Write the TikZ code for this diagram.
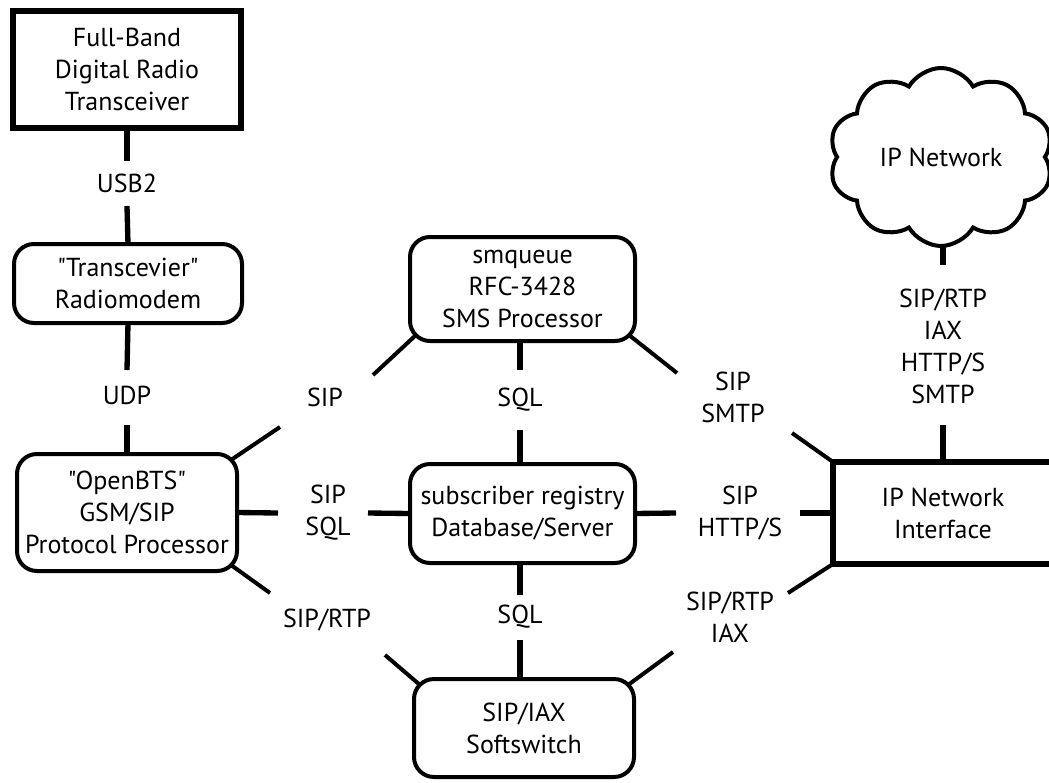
\documentclass[tikz,border=0pt]{standalone}
\usepackage{fontspec}
\newfontfamily\ptsans{PT Sans}
\usetikzlibrary{shapes.symbols,calc}
\begin{document}
\begin{tikzpicture}[x=0.75pt,y=-0.75pt,
  every node/.style={font=\ptsans\fontsize{19.5}{24}\selectfont, align=center, inner sep=0pt, outer sep=0pt},
  tbox/.style={draw, line width=4.5pt, rectangle},
  rbox/.style={draw, line width=3pt, rectangle, rounded corners=15pt},
  conn/.style={line width=4pt},
  diag/.style={line width=3pt},
  lbl/.style={}]
\useasboundingbox (0,0) rectangle (1049,782);

% boxes
\node[tbox, minimum width=228*0.75pt, minimum height=117*0.75pt] (fb) at (127,69.5) {Full-Band\\Digital Radio\\Transceiver};
\node[rbox, minimum width=228*0.75pt, minimum height=79*0.75pt] (rm) at (128,283.5) {"Transcevier"\\Radiomodem};
\node[rbox, minimum width=220*0.75pt, minimum height=117*0.75pt] (obts) at (127,512.5) {"OpenBTS"\\GSM/SIP\\Protocol Processor};
\node[rbox, minimum width=225*0.75pt, minimum height=104*0.75pt] (smq) at (522.5,289) {smqueue\\RFC-3428\\SMS Processor};
\node[rbox, minimum width=225*0.75pt, minimum height=99*0.75pt] (reg) at (522.5,513.5) {subscriber registry\\Database/Server};
\node[rbox, minimum width=220*0.75pt, minimum height=98*0.75pt] (sw) at (524,728) {SIP/IAX\\Softswitch};
\node[tbox, minimum width=220*0.75pt, minimum height=102*0.75pt] (ipni) at (943,513) {IP Network\\Interface};
\node[cloud, draw, line width=3pt, cloud puffs=10, cloud puff arc=120, cloud ignores aspect,
      minimum width=224*0.75pt, minimum height=178*0.75pt] (cloud) at (941,157) {IP Network};

% labels
\node[lbl] (l1) at (127,183) {USB2};
\node[lbl] (l2) at (127,395) {UDP};
\node[lbl] (l3) at (325,397) {SIP};
\node[lbl] (l4) at (328,513) {SIP\\SQL};
\node[lbl] (l5) at (327,620) {SIP/RTP};
\node[lbl] (l6) at (520,400) {SQL};
\node[lbl] (l7) at (520,617) {SQL};
\node[lbl] (l8) at (733,397) {SIP\\SMTP};
\node[lbl] (l9) at (740,513) {SIP\\HTTP/S};
\node[lbl] (l10) at (730,617) {SIP/RTP\\IAX};
\node[lbl] (l11) at (943,346) {SIP/RTP\\IAX\\HTTP/S\\SMTP};

% free ends
\coordinate (a1) at (127,161);
\coordinate (a2) at (127,206);
\coordinate (b1) at (127,370);
\coordinate (b2) at (127,425);
\coordinate (c1) at (280,427);
\coordinate (c2) at (373,375);
\coordinate (d1) at (278,513);
\coordinate (d2) at (368,513);
\coordinate (e1) at (270,593);
\coordinate (e2) at (385,655);
\coordinate (f1) at (520,370);
\coordinate (f2) at (520,430);
\coordinate (g1) at (520,595);
\coordinate (g2) at (520,640);
\coordinate (h1) at (677,373);
\coordinate (h2) at (792,433);
\coordinate (i1) at (676,513);
\coordinate (i2) at (800,513);
\coordinate (j1) at (673,652);
\coordinate (j2) at (788,593);
\coordinate (k1) at (943,265);
\coordinate (k2) at (943,425);

% connectors
\draw[conn] (fb.south) -- (a1);
\draw[conn] (a2) -- (rm.north);
\draw[conn] (rm.south) -- (b1);
\draw[conn] (b2) -- (obts.north);
\draw[diag] ([shift={(-6,6)}]obts.north east) -- (c1);
\draw[diag] (c2) -- ([shift={(6,-6)}]smq.south west);
\draw[conn] (obts.east) -- (d1);
\draw[conn] (d2) -- (reg.west);
\draw[diag] ([shift={(-6,-6)}]obts.south east) -- (e1);
\draw[diag] (e2) -- ([shift={(6,6)}]sw.north west);
\draw[conn] (smq.south -| f1) -- (f1);
\draw[conn] (f2) -- (reg.north -| f2);
\draw[conn] (reg.south -| g1) -- (g1);
\draw[conn] (g2) -- (sw.north -| g2);
\draw[diag] ([shift={(-6,-6)}]smq.south east) -- (h1);
\draw[diag] (h2) -- (ipni.north west);
\draw[conn] (reg.east) -- (i1);
\draw[conn] (i2) -- (ipni.west);
\draw[diag] ([shift={(-6,6)}]sw.north east) -- (j1);
\draw[diag] (j2) -- (ipni.south west);
\draw[conn] (cloud.south -| k1) -- (k1);
\draw[conn] (k2) -- (ipni.north -| k2);
\end{tikzpicture}
\end{document}
